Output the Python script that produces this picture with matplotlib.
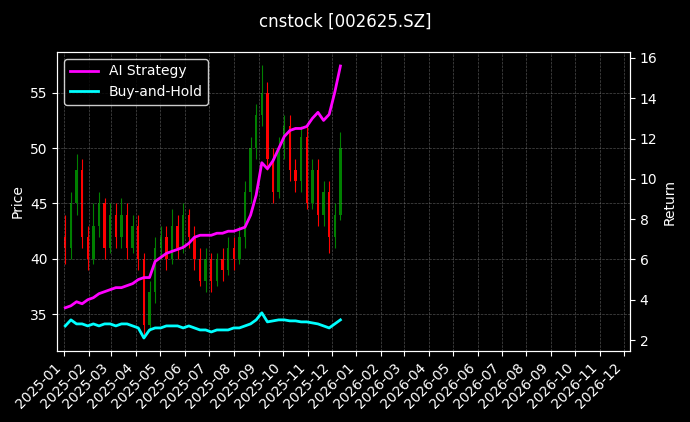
import pandas as pd
import matplotlib.pyplot as plt
import matplotlib.dates as mdates

# weekly candles (Fridays)
dates = pd.date_range('2025-01-03', '2025-12-12', freq='W-FRI')
opens = [42, 41, 45, 48, 42, 40, 43, 45, 41, 44, 42, 44, 41, 43, 40, 34, 37,
         41, 42, 40, 43, 41, 44, 42, 40, 38, 40, 38, 40, 39, 41, 40, 42, 46, 50,
         53, 55, 49, 46, 50, 52, 48, 47, 51, 45, 48, 44, 46, 42, 44]
closes = [41, 45, 48, 42, 40, 43, 45, 41, 44, 42, 44, 41, 43, 40, 34, 37, 41,
          42, 40, 43, 41, 44, 42, 40, 38, 40, 38, 40, 39, 41, 40, 42, 46, 50, 53,
          55, 49, 46, 50, 52, 48, 47, 51, 45, 48, 44, 46, 42, 44, 50]
highs = [44, 46, 49.5, 49, 43, 45, 46, 45.5, 45, 45, 45.5, 45, 44, 44, 40.5, 38, 42,
         43, 43, 44.5, 44, 45, 44.5, 43, 41, 41, 40.5, 40.5, 41, 42, 42, 43, 47, 51, 54,
         57.5, 56, 50, 51, 53, 53, 49, 52, 52, 49, 49, 47, 47, 45, 51.5]
lows = [39.5, 40, 44, 41, 39, 39.5, 42, 40, 40.5, 41, 41, 40, 40.5, 39, 33, 33.5, 36,
        40, 39, 39.5, 40, 40.5, 41, 39, 37.5, 37, 37, 37.5, 38, 38.5, 39, 39.5, 41, 45, 49,
        52, 48, 45, 45.5, 49, 47, 46, 46, 44.5, 44.5, 43, 43, 40.5, 41, 43.5]

ai_return = [3.6, 3.7, 3.9, 3.8, 4.0, 4.1, 4.3, 4.4, 4.5, 4.6, 4.6, 4.7, 4.8,
             5.0, 5.1, 5.1, 5.9, 6.1, 6.3, 6.4, 6.5, 6.6, 6.8, 7.1, 7.2, 7.2,
             7.2, 7.3, 7.3, 7.4, 7.4, 7.5, 7.6, 8.2, 9.2, 10.8, 10.5, 10.9, 11.5,
             12.1, 12.4, 12.5, 12.5, 12.6, 13.0, 13.3, 12.9, 13.2, 14.3, 15.6]
bh_return = [2.7, 3.0, 2.8, 2.8, 2.7, 2.8, 2.7, 2.8, 2.8, 2.7, 2.8, 2.8, 2.7,
             2.6, 2.1, 2.5, 2.6, 2.6, 2.7, 2.7, 2.7, 2.6, 2.7, 2.6, 2.5, 2.5,
             2.4, 2.5, 2.5, 2.5, 2.6, 2.6, 2.7, 2.8, 3.0, 3.35, 2.9, 2.95, 3.0,
             3.0, 2.95, 2.95, 2.9, 2.9, 2.85, 2.8, 2.7, 2.6, 2.8, 3.0]

plt.style.use('dark_background')
fig = plt.figure(figsize=(6.9, 4.22), dpi=100)
ax = fig.add_axes([0.083, 0.168, 0.83, 0.709])

for d, o, h, l, c in zip(dates, opens, highs, lows, closes):
    col = 'green' if c >= o else 'red'
    ax.vlines(d, l, h, color=col, linewidth=0.8)
    ax.bar(d, abs(c - o) or 0.1, bottom=min(o, c), width=3, color=col)

ax.set_ylabel('Price')
ax.set_ylim(31.65, 58.7)
ax.grid(True, linestyle='--', linewidth=0.5, color='gray', alpha=0.6)

ax2 = ax.twinx()
ax2.plot(dates, ai_return, color='magenta', linewidth=2, label='AI Strategy')
ax2.plot(dates, bh_return, color='cyan', linewidth=2, label='Buy-and-Hold')
ax2.set_ylabel('Return')
ax2.set_ylim(1.45, 16.3)
ax2.legend(loc='upper left', edgecolor='white')

ax.set_xlim(pd.Timestamp('2024-12-24'), pd.Timestamp('2026-12-08'))
ax.xaxis.set_major_locator(mdates.MonthLocator())
ax.xaxis.set_major_formatter(mdates.DateFormatter('%Y-%m'))
plt.setp(ax.get_xticklabels(), rotation=45, ha='right')

fig.suptitle('cnstock [002625.SZ]', y=0.97)
fig.savefig('out.png', dpi=100)
